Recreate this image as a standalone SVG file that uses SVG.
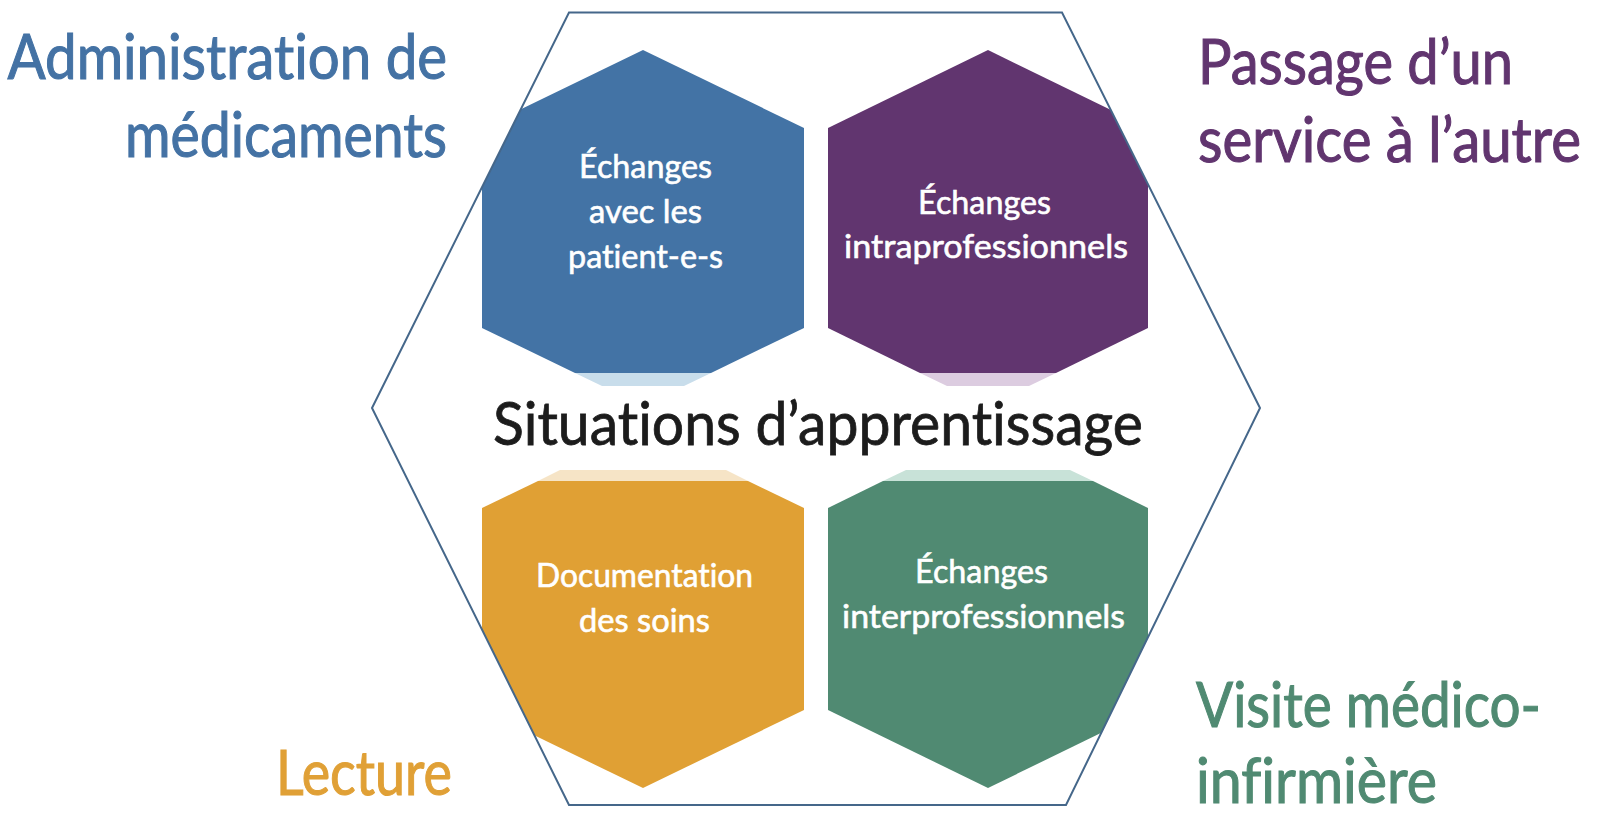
<svg xmlns="http://www.w3.org/2000/svg" width="1600" height="821" viewBox="0 0 1600 821">
  <style>
    text { font-family: Lato, "Open Sans", "Liberation Sans", sans-serif; font-variant-ligatures: none; font-feature-settings: "liga" 0, "dlig" 0; }
    .outer { font-size: 62px; stroke-width: 1.1px; }
    .inner { font-size: 33px; fill: #ffffff; stroke: #ffffff; stroke-width: 0.6px; }
    .center { font-size: 60px; fill: #1c1c1c; stroke: #1c1c1c; stroke-width: 0.8px; }
    .blue { fill: #4472A4; stroke: #4472A4; }
    .purple { fill: #61356F; stroke: #61356F; }
    .orange { fill: #E0A036; stroke: #E0A036; }
    .green { fill: #508A72; stroke: #508A72; }
  </style>
  <defs>
    <clipPath id="bigHexClip">
      <polygon points="569,12.5 1062,12.5 1260,408 1066,805 569,805 372,408"/>
    </clipPath>
  </defs>
  <rect width="1600" height="821" fill="#ffffff"/>

  <g clip-path="url(#bigHexClip)">
    <g id="node-patients">
      <polygon points="643,50 804,128 804,328 711,373 575,373 482,328 482,128" fill="#4373A5"/>
      <polygon points="575,373 711,373 684,386 602,386" fill="#C8DDEB"/>
    </g>
    <g id="node-intra">
      <polygon points="988,50 1148,128 1148,328 1056,373 920,373 828,328 828,128" fill="#61356F"/>
      <polygon points="920,373 1056,373 1029,386 947,386" fill="#DCCCE0"/>
    </g>
    <g id="node-documentation">
      <polygon points="560,470 726,470 748,481 538,481" fill="#F6E4C6"/>
      <polygon points="538,481 748,481 804,508 804,710 643,788 482,710 482,508" fill="#E0A034"/>
    </g>
    <g id="node-inter">
      <polygon points="906,470 1070,470 1093,481 883,481" fill="#C8E2D8"/>
      <polygon points="883,481 1093,481 1148,508 1148,710 988,788 828,710 828,508" fill="#508A72"/>
    </g>
  </g>

  <g id="frame">
    <polygon points="569,12.5 1062,12.5 1260,408 1066,805 569,805 372,408" fill="none" stroke="#45678A" stroke-width="2"/>
  </g>

  <g id="connectors"></g>

  <g id="labels-inner">
    <text class="inner" x="579" y="178" textLength="133" lengthAdjust="spacingAndGlyphs">Échanges</text>
    <text class="inner" x="589" y="223" textLength="113" lengthAdjust="spacingAndGlyphs">avec les</text>
    <text class="inner" x="568" y="268" textLength="155" lengthAdjust="spacingAndGlyphs">patient-e-s</text>

    <text class="inner" x="918" y="214" textLength="133" lengthAdjust="spacingAndGlyphs">Échanges</text>
    <text class="inner" x="844" y="258" textLength="284" lengthAdjust="spacingAndGlyphs">intraprofessionnels</text>

    <text class="inner" x="536" y="587" textLength="217" lengthAdjust="spacingAndGlyphs">Documentation</text>
    <text class="inner" x="579" y="632" textLength="131" lengthAdjust="spacingAndGlyphs">des soins</text>

    <text class="inner" x="915" y="583" textLength="133" lengthAdjust="spacingAndGlyphs">Échanges</text>
    <text class="inner" x="842" y="628" textLength="283" lengthAdjust="spacingAndGlyphs">interprofessionnels</text>
  </g>

  <g id="center-label">
    <text class="center" x="493" y="445" textLength="650" lengthAdjust="spacingAndGlyphs">Situations d’apprentissage</text>
  </g>

  <g id="label-medicaments">
    <text class="outer blue" x="7.5" y="78.5" textLength="439.5" lengthAdjust="spacingAndGlyphs">Administration de</text>
    <text class="outer blue" x="125" y="156.5" textLength="322" lengthAdjust="spacingAndGlyphs">médicaments</text>
  </g>
  <g id="label-passage">
    <text class="outer purple" x="1198" y="84" textLength="315" lengthAdjust="spacingAndGlyphs">Passage d’un</text>
    <text class="outer purple" transform="translate(1198,162) scale(0.9,1)" x="0" y="0" textLength="425.5" lengthAdjust="spacingAndGlyphs">service à l’autre</text>
  </g>
  <g id="label-visite">
    <text class="outer green" x="1196" y="726.5" textLength="345" lengthAdjust="spacingAndGlyphs">Visite médico-</text>
    <text class="outer green" x="1196" y="803" textLength="241" lengthAdjust="spacingAndGlyphs">infirmière</text>
  </g>
  <g id="label-lecture">
    <text class="outer orange" x="276" y="795" textLength="176" lengthAdjust="spacingAndGlyphs">Lecture</text>
  </g>
</svg>
